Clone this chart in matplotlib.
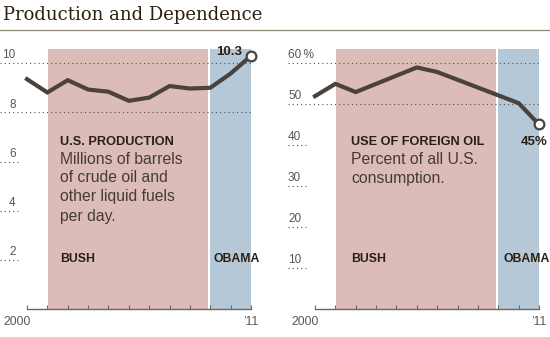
import matplotlib
matplotlib.use("Agg")
import matplotlib.pyplot as plt
from matplotlib.transforms import Affine2D, blended_transform_factory

# yearly series
years = list(range(2000, 2012))
production = [9.35, 8.81, 9.31, 8.93, 8.84, 8.47, 8.60, 9.07, 8.97, 9.00, 9.58, 10.3]
foreign_share = [51.9, 54.9, 52.9, 54.9, 56.9, 58.9, 57.8, 55.9, 54.0, 52.1, 50.2, 45.0]

# presidential terms (start, end) on the year axis
terms = ["BUSH", "OBAMA"]
term_spans = [(2001.02, 2008.87), (2008.98, 2011.0)]

prod_ticks = [10, 8, 6, 4, 2]
share_ticks = [60, 50, 40, 30, 20, 10]

PINK = "#dbbcb9"
BLUE = "#b4c8d8"
LINE = "#4b423b"
DARK = "#2b1f12"
GREY = "#5c554e"

plt.rcParams["font.family"] = ["Liberation Sans", "DejaVu Sans"]

W, H = 550, 337
fig = plt.figure(figsize=(W / 100, H / 100), dpi=100)
fig.patch.set_facecolor("white")

# pixel coordinates measured from the top-left corner
px = Affine2D().scale(1 / W, -1 / H).translate(0, 1) + fig.transFigure

fig.text(3, 20.5, "Production and Dependence", transform=px, fontsize=13,
         family=["DejaVu Serif"], color=DARK, va="baseline", ha="left")
fig.add_artist(plt.Line2D([0, W], [30, 30], transform=px, color="#8f8677", lw=0.9))


def panel(left, ytop, values, ticks, tick_fmt, grid_full, label_x, label_ha,
          grid_x0, grid_x1, short_x1, end_label, title, body, note_xy, text_x,
          obama_x):
    ax = fig.add_axes([left / W, (H - 309) / H, 224 / W, 259.8 / H])
    ax.set_xlim(2000, 2011)
    ax.set_ylim(0, ytop)
    for (a, b), name in zip(term_spans, terms):
        ax.axvspan(a, b, color=PINK if name == "BUSH" else BLUE, lw=0, zorder=0)

    for s in ["top", "right", "left"]:
        ax.spines[s].set_visible(False)
    ax.spines["bottom"].set_color("#6e675e")
    ax.spines["bottom"].set_linewidth(1.0)
    ax.set_yticks([])
    ax.set_xticks(years)
    ax.set_xticklabels([])
    ax.tick_params(axis="x", direction="in", length=3.2, width=0.8, color="#6e675e")

    bl = blended_transform_factory(px, ax.transData)
    for i, t in enumerate(ticks):
        x1 = grid_x1 if t in grid_full else short_x1
        ax.plot([grid_x0, x1], [t, t], transform=bl, clip_on=False, color="#55504a",
                lw=0.8, ls=(0, (1, 2.8)), zorder=1)
        ax.annotate(tick_fmt(t, i), xy=(label_x, t), xycoords=bl, xytext=(0, 3.4),
                    textcoords="offset points", ha=label_ha, va="baseline",
                    fontsize=8.5, color=GREY, annotation_clip=False)

    ax.plot(years, values, color=LINE, lw=3.0, solid_joinstyle="miter", zorder=3,
            clip_on=False)
    ax.plot(years[-1], values[-1], "o", ms=7, mfc="white", mec=LINE, mew=1.6,
            zorder=4, clip_on=False)

    # value note next to the final point
    ax.text(note_xy[0], note_xy[1], end_label, transform=px, ha="center",
            va="baseline", fontsize=9.5, fontweight="bold", color=DARK)

    # description block
    ax.text(text_x, 145, title, transform=px, fontsize=9.2, fontweight="bold",
            color=DARK, va="baseline")
    for k, line in enumerate(body):
        ax.text(text_x, 163.5 + 19 * k, line, transform=px, fontsize=11.3,
                color="#463c34", va="baseline")

    ax.text(text_x, 262, terms[0], transform=px, fontsize=8.8, fontweight="bold",
            color=DARK, va="baseline")
    ax.text(obama_x, 262, terms[1], transform=px, fontsize=8.8,
            fontweight="bold", color=DARK, va="baseline")

    ax.text(left - 10, 325, "2000", transform=px, ha="center", va="baseline",
            fontsize=8.8, color=GREY)
    ax.text(left + 224, 325, "\u201911", transform=px, ha="center", va="baseline",
            fontsize=8.8, color=GREY)
    return ax


panel(27, 10.57, production, prod_ticks, lambda t, i: str(t), {10, 8},
      15.5, "right", 0, 251, 21, "10.3",
      "U.S. PRODUCTION",
      ["Millions of barrels", "of crude oil and", "other liquid fuels", "per day."],
      (229, 55), 60, 213)

panel(315, 63.35, foreign_share, share_ticks,
      lambda t, i: f"{t}\u2009%" if i == 0 else str(t), {60, 50},
      288, "left", 288, 539, 309, "45%",
      "USE OF FOREIGN OIL",
      ["Percent of all U.S.", "consumption."],
      (534, 145), 351, 503)

fig.savefig("out.png", dpi=100, facecolor="white")
